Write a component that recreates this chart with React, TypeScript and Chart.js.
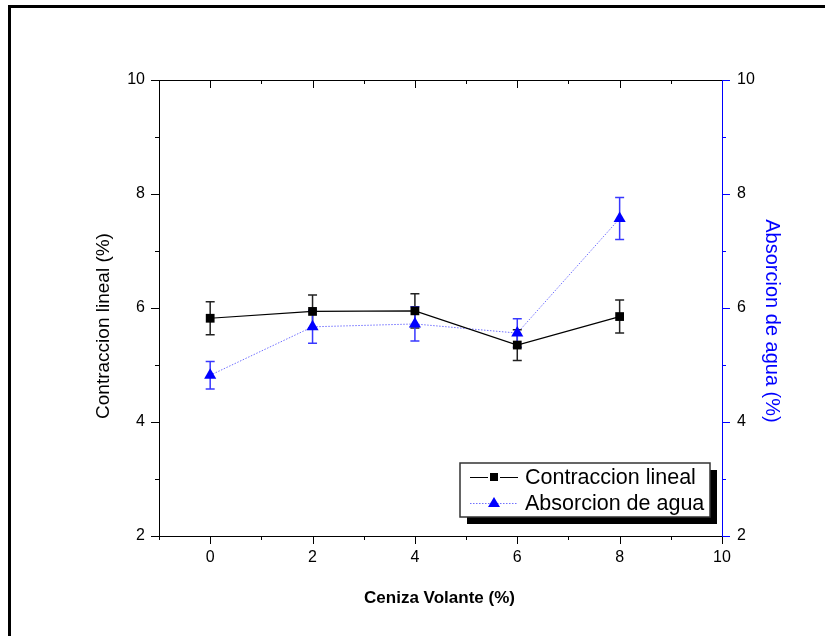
import React, { useEffect, useRef } from "react";
import { Chart, registerables } from "chart.js";

Chart.register(...registerables);

const cenizaVolante = [0, 2, 4, 6, 8];
const contraccionLineal = [5.82, 5.94, 5.95, 5.35, 5.85];
const contraccionErr = [0.29, 0.29, 0.3, 0.27, 0.29];
const absorcionAgua = [4.82, 5.67, 5.72, 5.56, 7.57];
const absorcionErr = [0.24, 0.29, 0.3, 0.25, 0.37];
const xTickValues = [0, 2, 4, 6, 8, 10];
const yTickValues = [2, 4, 6, 8, 10];

const FONT = "Arial, 'Liberation Sans', sans-serif";
const BLUE = "#0000ff";

const decorPlugin = {
  id: "decor",
  beforeDatasetsDraw(chart: any) {
    const ctx = chart.ctx;
    const x = chart.scales.x;
    const y = chart.scales.y;
    const y2 = chart.scales.y2;
    const drawErr = (vals: number[], errs: number[], sc: any, color: string) => {
      ctx.save();
      ctx.strokeStyle = color;
      ctx.lineWidth = 1.5;
      vals.forEach((v, i) => {
        const px = x.getPixelForValue(cenizaVolante[i]);
        const t = sc.getPixelForValue(v + errs[i]);
        const b = sc.getPixelForValue(v - errs[i]);
        ctx.beginPath();
        ctx.moveTo(px, t);
        ctx.lineTo(px, b);
        ctx.moveTo(px - 4.5, t);
        ctx.lineTo(px + 4.5, t);
        ctx.moveTo(px - 4.5, b);
        ctx.lineTo(px + 4.5, b);
        ctx.stroke();
      });
      ctx.restore();
    };
    drawErr(contraccionLineal, contraccionErr, y, "#222");
    drawErr(absorcionAgua, absorcionErr, y2, "#3838ff");
  },
  afterDraw(chart: any) {
    const ctx = chart.ctx;
    const a = chart.chartArea;
    const x = chart.scales.x;
    const y = chart.scales.y;
    ctx.save();
    // outer frame
    ctx.strokeStyle = "#000";
    ctx.lineWidth = 3;
    ctx.strokeRect(9.5, 6.5, 1000, 1000);

    // axes lines
    ctx.lineWidth = 1;
    ctx.strokeStyle = "#000";
    ctx.beginPath();
    ctx.moveTo(a.left + 0.5, a.bottom + 0.5);
    ctx.lineTo(a.left + 0.5, a.top + 0.5);
    ctx.lineTo(a.right + 0.5, a.top + 0.5);
    ctx.moveTo(a.left + 0.5, a.bottom + 0.5);
    ctx.lineTo(a.right + 0.5, a.bottom + 0.5);
    ctx.stroke();

    // x ticks
    ctx.beginPath();
    for (let v = x.min; v <= x.max + 1e-9; v += 1) {
      const px = Math.round(x.getPixelForValue(v)) + 0.5;
      const major = Math.abs(v % 2) < 1e-9;
      const len = major ? 8 : 4;
      ctx.moveTo(px, a.bottom);
      ctx.lineTo(px, a.bottom + len);
      ctx.moveTo(px, a.top);
      ctx.lineTo(px, a.top + len);
    }
    // left y ticks
    for (let v = y.min; v <= y.max + 1e-9; v += 1) {
      const py = Math.round(y.getPixelForValue(v)) + 0.5;
      const major = Math.abs(v % 2) < 1e-9;
      const len = major ? 8 : 4;
      ctx.moveTo(a.left, py);
      ctx.lineTo(a.left - len, py);
    }
    ctx.stroke();

    // right axis (blue)
    ctx.strokeStyle = BLUE;
    ctx.beginPath();
    ctx.moveTo(a.right + 0.5, a.top);
    ctx.lineTo(a.right + 0.5, a.bottom + 1);
    const y2 = chart.scales.y2;
    for (let v = y2.min; v <= y2.max + 1e-9; v += 1) {
      const py = Math.round(y2.getPixelForValue(v)) + 0.5;
      const major = Math.abs(v % 2) < 1e-9;
      const len = major ? 8 : 4;
      ctx.moveTo(a.right, py);
      ctx.lineTo(a.right + len, py);
    }
    ctx.stroke();

    // axis titles
    ctx.fillStyle = "#000";
    ctx.font = `19px ${FONT}`;
    ctx.textAlign = "center";
    ctx.textBaseline = "middle";
    ctx.save();
    ctx.translate(104, 326);
    ctx.rotate(-Math.PI / 2);
    ctx.fillText("Contraccion lineal (%)", 0, 0);
    ctx.restore();

    ctx.save();
    ctx.fillStyle = BLUE;
    ctx.font = `20px ${FONT}`;
    ctx.translate(772, 321);
    ctx.rotate(Math.PI / 2);
    ctx.fillText("Absorcion de agua (%)", 0, 0);
    ctx.restore();

    ctx.font = `bold 17px ${FONT}`;
    ctx.fillText("Ceniza Volante (%)", (a.left + a.right) / 2 - 1, 598);

    // legend
    const bx = a.right - 262;
    const by = a.bottom - 73;
    const bw = 250;
    const bh = 54;
    ctx.fillStyle = "#000";
    ctx.fillRect(bx + 7, by + 7, bw, bh);
    ctx.fillStyle = "#fff";
    ctx.fillRect(bx, by, bw, bh);
    ctx.strokeStyle = "#333";
    ctx.lineWidth = 1.5;
    ctx.strokeRect(bx, by, bw, bh);

    const r1 = by + 14;
    const r2 = by + 40;
    // row 1
    ctx.strokeStyle = "#000";
    ctx.lineWidth = 1;
    ctx.beginPath();
    ctx.moveTo(bx + 10, r1 + 0.5);
    ctx.lineTo(bx + 28, r1 + 0.5);
    ctx.moveTo(bx + 40, r1 + 0.5);
    ctx.lineTo(bx + 58, r1 + 0.5);
    ctx.stroke();
    ctx.fillStyle = "#000";
    ctx.fillRect(bx + 30, r1 - 4, 8, 8);
    // row 2
    ctx.strokeStyle = "#7070ff";
    ctx.setLineDash([1.5, 1.5]);
    ctx.beginPath();
    ctx.moveTo(bx + 10, r2 + 0.5);
    ctx.lineTo(bx + 58, r2 + 0.5);
    ctx.stroke();
    ctx.setLineDash([]);
    ctx.fillStyle = BLUE;
    ctx.beginPath();
    ctx.moveTo(bx + 34, r2 - 6);
    ctx.lineTo(bx + 40, r2 + 4);
    ctx.lineTo(bx + 28, r2 + 4);
    ctx.closePath();
    ctx.fill();

    ctx.fillStyle = "#000";
    ctx.font = `21.5px ${FONT}`;
    ctx.textAlign = "left";
    ctx.textBaseline = "middle";
    ctx.fillText("Contraccion lineal", bx + 65, r1 + 1);
    ctx.fillText("Absorcion de agua", bx + 65, r2 + 1);
    ctx.restore();
  },
};

export default function App() {
  const ref = useRef<HTMLCanvasElement | null>(null);
  useEffect(() => {
    document.body.style.margin = "0";
    const canvas = ref.current;
    if (!canvas) return;
    const chart = new Chart(canvas, {
      type: "line",
      data: {
        datasets: [
          {
            label: "Contraccion lineal",
            data: cenizaVolante.map((x, i) => ({ x, y: contraccionLineal[i] })),
            yAxisID: "y",
            borderColor: "#000",
            backgroundColor: "#000",
            borderWidth: 1.2,
            pointStyle: "rect",
            pointRadius: 6.2,
            pointBorderWidth: 0,
            pointBackgroundColor: "#000",
            tension: 0,
          },
          {
            label: "Absorcion de agua",
            data: cenizaVolante.map((x, i) => ({ x, y: absorcionAgua[i] })),
            yAxisID: "y2",
            borderColor: "#7070ff",
            backgroundColor: BLUE,
            borderWidth: 1,
            borderDash: [1.5, 1.5],
            pointStyle: "triangle",
            pointRadius: 7,
            pointBorderWidth: 0,
            pointBackgroundColor: BLUE,
            tension: 0,
          },
        ],
      },
      options: {
        responsive: false,
        animation: false,
        devicePixelRatio: 1,
        layout: { padding: { top: 80, left: 0, right: 0, bottom: 0 } },
        plugins: { legend: { display: false }, tooltip: { enabled: false } },
        scales: {
          x: {
            type: "linear",
            min: -1,
            max: 10,
            grid: { display: false, drawTicks: false },
            border: { display: false },
            ticks: {
              padding: 12,
              color: "#000",
              font: { family: FONT, size: 16 },
              maxRotation: 0,
            },
            afterBuildTicks: (s: any) => {
              s.ticks = xTickValues.map((v) => ({ value: v }));
            },
            afterFit: (s: any) => {
              s.height = 100;
            },
          },
          y: {
            type: "linear",
            position: "left",
            min: 2,
            max: 10,
            grid: { display: false, drawTicks: false },
            border: { display: false },
            ticks: {
              padding: 14,
              color: "#000",
              font: { family: FONT, size: 16 },
            },
            afterBuildTicks: (s: any) => {
              s.ticks = yTickValues.map((v) => ({ value: v }));
            },
            afterFit: (s: any) => {
              s.width = 159;
            },
          },
          y2: {
            type: "linear",
            position: "right",
            min: 2,
            max: 10,
            grid: { display: false, drawTicks: false },
            border: { display: false },
            ticks: {
              padding: 15,
              color: "#000",
              font: { family: FONT, size: 16 },
            },
            afterBuildTicks: (s: any) => {
              s.ticks = yTickValues.map((v) => ({ value: v }));
            },
            afterFit: (s: any) => {
              s.width = 103;
            },
          },
        },
      },
      plugins: [decorPlugin],
    } as any);
    return () => chart.destroy();
  }, []);
  return (
    <div style={{ width: 825, height: 636, background: "#fff" }}>
      <canvas ref={ref} width={825} height={636} style={{ display: "block" }} />
    </div>
  );
}
